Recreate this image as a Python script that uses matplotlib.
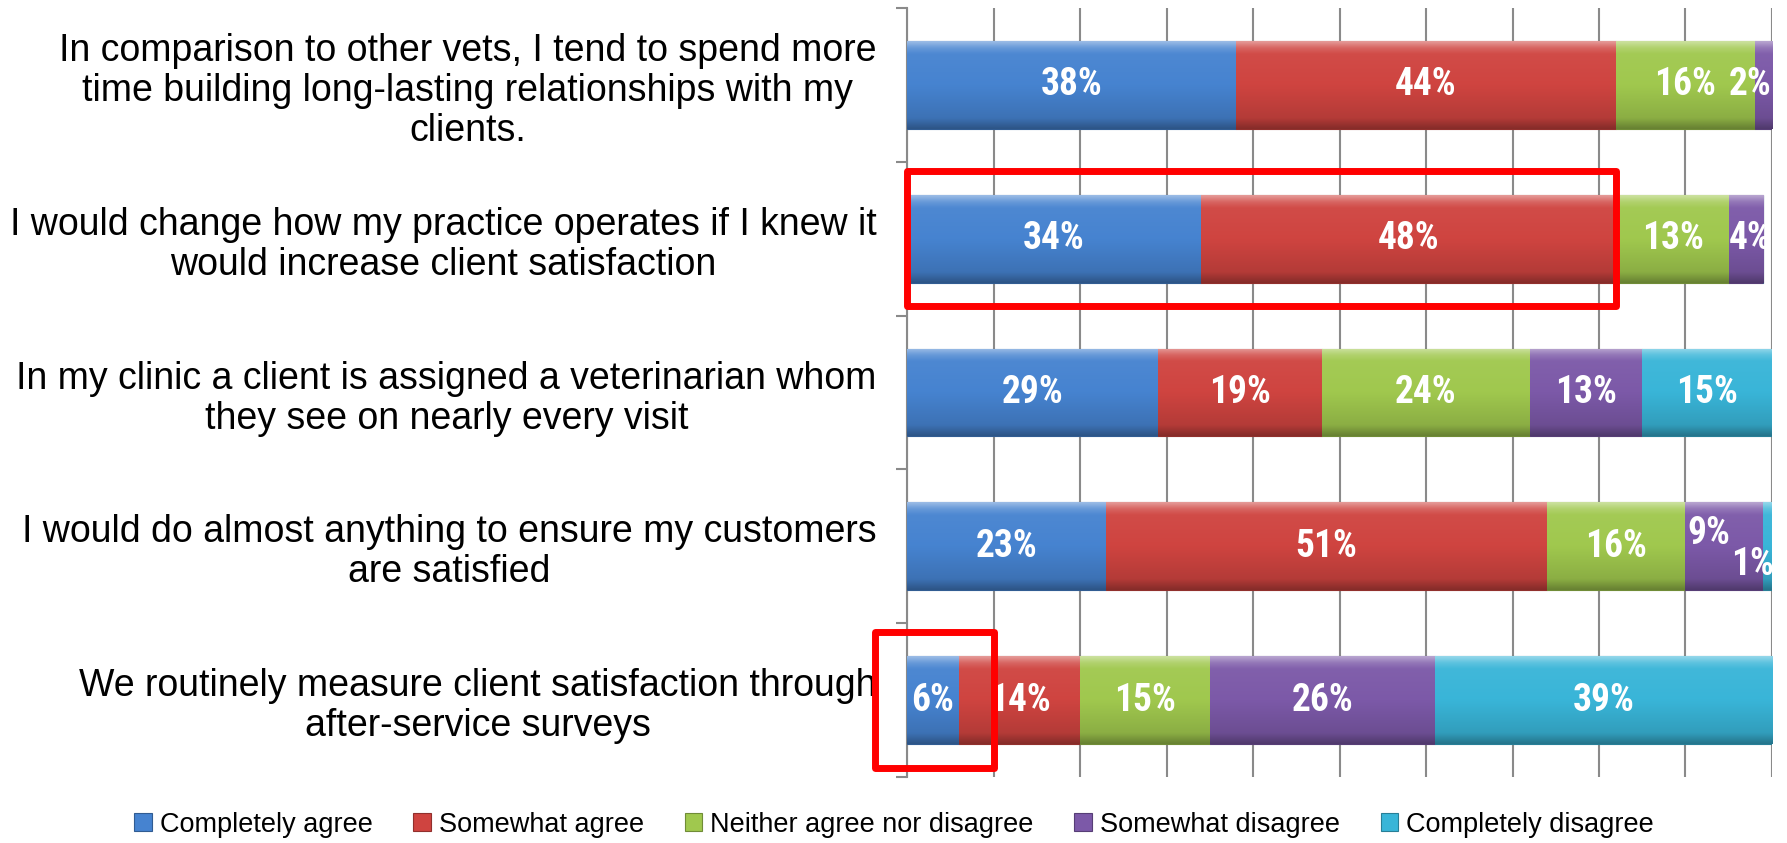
import numpy as np
import matplotlib
matplotlib.use("Agg")
import matplotlib.pyplot as plt
from matplotlib.patches import Patch, Rectangle
from matplotlib.colors import to_rgb

# Survey statements, top to bottom
statements = [
    "In comparison to other vets, I tend to spend more\ntime building long-lasting relationships with my\nclients.",
    "I would change how my practice operates if I knew it\nwould increase client satisfaction",
    "In my clinic a client is assigned a veterinarian whom\nthey see on nearly every visit",
    "I would do almost anything to ensure my customers\nare satisfied",
    "We routinely measure client satisfaction through\nafter-service surveys",
]

# Response shares (%) per statement
completely_agree = [38, 34, 29, 23, 6]
somewhat_agree = [44, 48, 19, 51, 14]
neither = [16, 13, 24, 16, 15]
somewhat_disagree = [2, 4, 13, 9, 26]
completely_disagree = [0, 0, 15, 1, 39]

series_names = ["Completely agree", "Somewhat agree", "Neither agree nor disagree",
                "Somewhat disagree", "Completely disagree"]
series_values = [completely_agree, somewhat_agree, neither, somewhat_disagree, completely_disagree]
series_colors = ["#4683D0", "#CF4440", "#A0C84E", "#7C59A8", "#39B5D8"]

LABEL_FONT = ["Liberation Sans Narrow", "Arial Narrow", "Roboto Condensed", "PT Sans Narrow",
              "Archivo Narrow", "Liberation Sans", "DejaVu Sans"]
TEXT_FONT = ["Liberation Sans", "DejaVu Sans"]


def mix(c, other, t):
    c = np.array(to_rgb(c))
    o = np.array(to_rgb(other))
    return tuple(c + (o - c) * t)


def bevel_gradient(color, n=64):
    stops = [0.0, 0.07, 0.14, 0.5, 0.88, 1.0]
    cols = [mix(color, "white", 0.45), mix(color, "white", 0.18), mix(color, "white", 0.04),
            to_rgb(color), mix(color, "black", 0.13), mix(color, "black", 0.35)]
    t = np.linspace(0, 1, n)
    arr = np.zeros((n, 1, 4))
    for k in range(3):
        arr[:, 0, k] = np.interp(t, stops, [c[k] for c in cols])
    arr[:, 0, 3] = 1.0
    return arr


fig = plt.figure(figsize=(17.87, 8.43), dpi=100)
ax = fig.add_axes([0.5076, 0.0783, 0.9916 - 0.5076, 0.9905 - 0.0783])

n = len(statements)
y = np.arange(n)
bar_h = 0.57
left = np.zeros(n)

for name, vals, col in zip(series_names, series_values, series_colors):
    vals = np.array(vals, dtype=float)
    bars = ax.barh(y, vals, left=left, height=bar_h, color=col,
                   edgecolor=mix(col, "black", 0.3), linewidth=0.8, zorder=3)
    for rect in bars:
        w = rect.get_width()
        if w <= 0:
            continue
        x0 = rect.get_x()
        yc = rect.get_y() + rect.get_height() / 2
        im = ax.imshow(bevel_gradient(col), extent=(x0, x0 + w, yc + bar_h / 2, yc - bar_h / 2),
                       aspect="auto", origin="upper", zorder=3.5, interpolation="bilinear")
        im.set_clip_path(rect)
    left += vals

# Value labels centred in each segment
nudges = {(3, 3): (-1.8, -0.085), (3, 4): (-1.7, 0.12)}
for i in range(n):
    start = 0.0
    for j, vals in enumerate(series_values):
        v = vals[i]
        if v > 0:
            cx = start + v / 2
            cy = y[i]
            ha = "center"
            if (i, j) in nudges:
                dx, dy = nudges[(i, j)]
                cx += dx
                cy += dy
            elif v < 5:
                cx = 100
                ha = "right"
            ax.text(cx, cy, f"{v}%", ha=ha, va="center", color="white", fontsize=27,
                    fontweight="bold", family=LABEL_FONT, zorder=5, clip_on=True)
        start += v

ax.set_xlim(0, 100)
ax.set_ylim(n - 0.5, -0.5)

ax.set_xticks(np.arange(0, 101, 10))
ax.tick_params(axis="x", length=0, labelbottom=False)
ax.grid(axis="x", color="#8a8a8a", linewidth=1.5, zorder=0)
ax.set_axisbelow(True)

ax.set_yticks(y)
ax.set_yticklabels(statements, family=TEXT_FONT, fontsize=27, linespacing=1.15,
                   multialignment="center")
ax.set_yticks(np.arange(-0.5, n, 1.0), minor=True)
ax.tick_params(axis="y", which="major", length=0, pad=22)
ax.tick_params(axis="y", which="minor", length=8, width=1.5, color="#8a8a8a", direction="out")

for s in ["top", "right", "bottom"]:
    ax.spines[s].set_visible(False)
ax.spines["left"].set_color("#8a8a8a")
ax.spines["left"].set_linewidth(1.5)

# Highlight frames
ax.add_patch(Rectangle((0, 1.44), 82, -0.88, fill=False, edgecolor="#FF0000",
                       linewidth=5, joinstyle="round", zorder=6, clip_on=False))
ax.add_patch(Rectangle((-3.7, 4.44), 13.7, -0.88, fill=False, edgecolor="#FF0000",
                       linewidth=5, joinstyle="round", zorder=6, clip_on=False))

handles = [Patch(facecolor=c, edgecolor=mix(c, "black", 0.3), linewidth=0.8) for c in series_colors]
fig.legend(handles, series_names, loc="center", bbox_to_anchor=(0.5003, 0.0214), ncol=5,
           frameon=False, prop={"family": TEXT_FONT, "size": 19.5},
           handlelength=0.65, handleheight=0.65, handletextpad=0.3, columnspacing=1.5)

fig.savefig("out.png", dpi=100)
